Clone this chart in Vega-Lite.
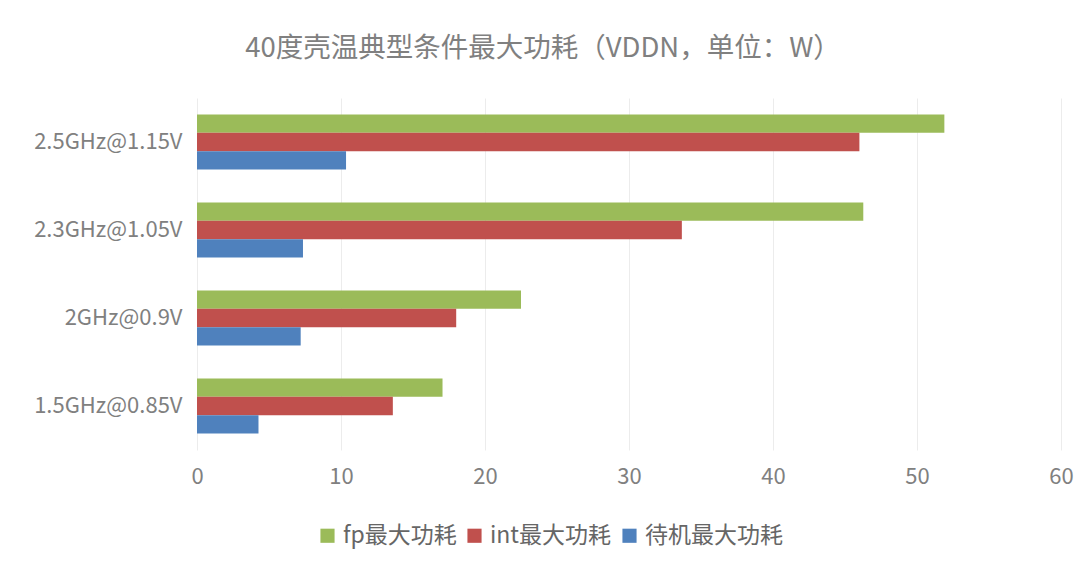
{
  "$schema": "https://vega.github.io/schema/vega-lite/v6.json",
  "autosize": {"type": "none"},
  "width": 864,
  "height": 352,
  "padding": {"left": 197, "top": 98, "right": 26, "bottom": 121},
  "background": "white",
  "title": {
    "text": "40度壳温典型条件最大功耗（VDDN，单位：W）",
    "font": "Noto Sans CJK SC",
    "fontSize": 27.5,
    "fontWeight": "normal",
    "color": "#808080",
    "anchor": "middle",
    "dx": -86,
    "offset": 36
  },
  "data": {
    "values": [
      {"cond": "2.5GHz@1.15V", "series": "fp最大功耗", "value": 51.9},
      {"cond": "2.5GHz@1.15V", "series": "int最大功耗", "value": 46.0},
      {"cond": "2.5GHz@1.15V", "series": "待机最大功耗", "value": 10.35},
      {"cond": "2.3GHz@1.05V", "series": "fp最大功耗", "value": 46.27},
      {"cond": "2.3GHz@1.05V", "series": "int最大功耗", "value": 33.67},
      {"cond": "2.3GHz@1.05V", "series": "待机最大功耗", "value": 7.36},
      {"cond": "2GHz@0.9V", "series": "fp最大功耗", "value": 22.5},
      {"cond": "2GHz@0.9V", "series": "int最大功耗", "value": 18.0},
      {"cond": "2GHz@0.9V", "series": "待机最大功耗", "value": 7.2},
      {"cond": "1.5GHz@0.85V", "series": "fp最大功耗", "value": 17.05},
      {"cond": "1.5GHz@0.85V", "series": "int最大功耗", "value": 13.6},
      {"cond": "1.5GHz@0.85V", "series": "待机最大功耗", "value": 4.27}
    ]
  },
  "mark": {"type": "bar"},
  "encoding": {
    "y": {
      "field": "cond",
      "type": "nominal",
      "sort": ["2.5GHz@1.15V", "2.3GHz@1.05V", "2GHz@0.9V", "1.5GHz@0.85V"],
      "scale": {"paddingInner": 0.375, "paddingOuter": 0.1875},
      "axis": {
        "title": null,
        "domain": false,
        "ticks": false,
        "labelFont": "Noto Sans CJK SC",
        "labelFontSize": 22,
        "labelColor": "#808080",
        "labelPadding": 15
      }
    },
    "yOffset": {
      "field": "series",
      "type": "nominal",
      "sort": ["fp最大功耗", "int最大功耗", "待机最大功耗"],
      "scale": {"paddingInner": 0, "paddingOuter": 0}
    },
    "x": {
      "field": "value",
      "type": "quantitative",
      "scale": {"domain": [0, 60]},
      "axis": {
        "title": null,
        "values": [0, 10, 20, 30, 40, 50, 60],
        "domain": false,
        "ticks": false,
        "grid": true,
        "gridColor": "#ececec",
        "gridWidth": 1,
        "labelFlush": false,
        "labelFont": "Noto Sans CJK SC",
        "labelFontSize": 22,
        "labelColor": "#808080",
        "labelPadding": 16
      }
    },
    "color": {
      "field": "series",
      "type": "nominal",
      "scale": {
        "domain": ["fp最大功耗", "int最大功耗", "待机最大功耗"],
        "range": ["#9BBB59", "#C0504D", "#4F81BD"]
      },
      "legend": {
        "title": null,
        "orient": "none",
        "direction": "horizontal",
        "legendX": 119,
        "legendY": 426,
        "symbolType": "square",
        "symbolSize": 200,
        "symbolStrokeWidth": 0,
        "labelFont": "Noto Sans CJK SC",
        "labelFontSize": 23,
        "labelColor": "#666666",
        "columnPadding": 6,
        "labelOffset": 4
      }
    }
  },
  "config": {
    "view": {"stroke": null}
  }
}
